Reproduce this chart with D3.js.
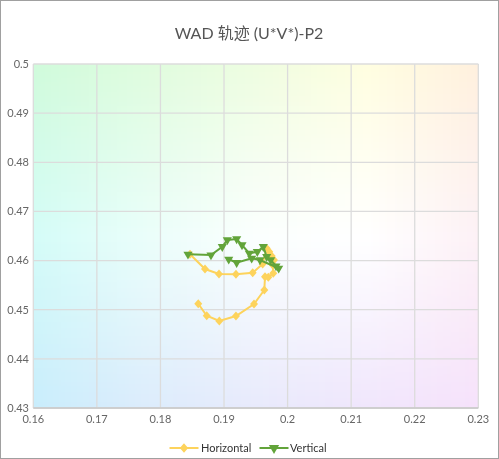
<!DOCTYPE html>
<html>
<head>
<meta charset="utf-8">
<script src="https://cdn.jsdelivr.net/npm/d3@7"></script>
<style>
  body { margin: 0; background: #fff; }
  #wrap { position: relative; width: 499px; height: 459px; }
  #bg { position: absolute; left: 0; top: 0; }
  #chart { position: absolute; left: 0; top: 0; }
  text { font-family: Lato, "Noto Sans CJK SC", sans-serif; }
</style>
</head>
<body>
<div id="wrap">
  <canvas id="bg" width="499" height="459"></canvas>
  <svg id="chart" width="499" height="459"></svg>
</div>
<script>
// data (u*, v*)
var seriesNames = ["Horizontal", "Vertical"];
var horizontalU = [0.18465, 0.18701, 0.18921, 0.19188, 0.19451, 0.19608, 0.19671, 0.19712, 0.1975, 0.19786,
  0.19766, 0.19775, 0.19697, 0.19645, 0.19634, 0.19472, 0.19188, 0.18926, 0.18728, 0.18595];
var horizontalV = [0.46128, 0.45828, 0.45727, 0.45721, 0.45753, 0.4593, 0.4625, 0.4618, 0.46093, 0.46012,
  0.4591, 0.45741, 0.4566, 0.45672, 0.45401, 0.45116, 0.44872, 0.4477, 0.44878, 0.45122];
var verticalU = [0.18433, 0.18795, 0.18973, 0.19052, 0.19199, 0.19283, 0.19398, 0.19524, 0.19618, 0.19671,
  0.19734, 0.19818, 0.1986, 0.19566, 0.19435, 0.19199, 0.19074];
var verticalV = [0.46128, 0.46113, 0.46282, 0.46419, 0.46439, 0.46317, 0.46148, 0.4618, 0.46282, 0.46079,
  0.46012, 0.45889, 0.45843, 0.46012, 0.46046, 0.45957, 0.46026];
var xTicks = [0.16, 0.17, 0.18, 0.19, 0.2, 0.21, 0.22, 0.23];
var yTicks = [0.43, 0.44, 0.45, 0.46, 0.47, 0.48, 0.49, 0.5];
var titleText = "WAD 轨迹 (U*V*)-P2";

var colors = ["#fdd35c", "#62a43a"];

var margin = { top: 64, right: 20.7, bottom: 51, left: 33.3 },
  width = 499 - margin.left - margin.right,
  height = 459 - margin.top - margin.bottom;

var x = d3.scaleLinear().domain([0.16, 0.23]).range([margin.left, margin.left + width]);
var y = d3.scaleLinear().domain([0.43, 0.5]).range([margin.top + height, margin.top]);

// background tint, blended from a grid of colours over the plot area
var bgCols = [0.16, 0.1775, 0.195, 0.2125, 0.23];
var bgRows = [
  ["#d0fbdb", "#dffcde", "#eefde0", "#fffee0", "#fff0de"],
  ["#d4fcf8", "#eafefa", "#fbfffe", "#ffffff", "#fdf1f6"],
  ["#c9edfc", "#dcecfc", "#e8eafc", "#f0e6fc", "#f6e2fb"]
];
var bgRowV = [0.5, 0.465, 0.43];
var rowScales = bgRows.map(function (r) {
  return d3.scaleLinear().domain(bgCols).range(r).interpolate(d3.interpolateRgb);
});

var ctx = document.getElementById("bg").getContext("2d");
var step = 2;
for (var px = Math.floor(margin.left); px < margin.left + width; px += step) {
  var u = x.invert(px + step / 2);
  var colScale = d3.scaleLinear().domain(bgRowV)
    .range(rowScales.map(function (s) { return s(u); }))
    .interpolate(d3.interpolateRgb);
  for (var py = margin.top; py < margin.top + height; py += step) {
    ctx.fillStyle = colScale(y.invert(py + step / 2));
    ctx.fillRect(px, py, step, step);
  }
}

// squat diamond like the echarts marker
var diamond = {
  draw: function (context, size) {
    var w = Math.sqrt(size) * 0.6, h = Math.sqrt(size) * 0.68;
    context.moveTo(0, -h);
    context.lineTo(w, 0);
    context.lineTo(0, h);
    context.lineTo(-w, 0);
    context.closePath();
  }
};

var svg = d3.select("#chart");

// outer frame
svg.append("rect")
  .attr("x", 0.5).attr("y", 0.5)
  .attr("width", 498).attr("height", 458)
  .attr("fill", "none")
  .attr("stroke", "#a0a0a0");

svg.append("text")
  .attr("x", 249)
  .attr("y", 39)
  .attr("text-anchor", "middle")
  .style("font-size", "16px")
  .style("fill", "#555")
  .text(titleText);

// grid
svg.append("g")
  .selectAll("line")
  .data(xTicks)
  .enter()
  .append("line")
  .attr("x1", function (d) { return x(d); })
  .attr("x2", function (d) { return x(d); })
  .attr("y1", margin.top)
  .attr("y2", margin.top + height)
  .style("stroke", "#dcdcdc")
  .style("stroke-width", 1.3);

svg.append("g")
  .selectAll("line")
  .data(yTicks)
  .enter()
  .append("line")
  .attr("x1", margin.left)
  .attr("x2", margin.left + width)
  .attr("y1", function (d) { return y(d); })
  .attr("y2", function (d) { return y(d); })
  .style("stroke", "#dcdcdc")
  .style("stroke-width", 1.3);

// bottom axis line
svg.append("line")
  .attr("x1", margin.left).attr("x2", margin.left + width)
  .attr("y1", y(0.43)).attr("y2", y(0.43))
  .style("stroke", "#c8c8c8")
  .style("stroke-width", 1.5);

var fmt = function (d) { return String(+d.toFixed(2)); };

svg.append("g")
  .selectAll("text")
  .data(yTicks)
  .enter()
  .append("text")
  .attr("x", 29)
  .attr("y", function (d) { return y(d); })
  .attr("dy", "0.35em")
  .attr("text-anchor", "end")
  .style("font-size", "11px")
  .style("fill", "#666")
  .text(fmt);

svg.append("g")
  .selectAll("text")
  .data(xTicks)
  .enter()
  .append("text")
  .attr("x", function (d) { return x(d); })
  .attr("y", y(0.43) + 11)
  .attr("dy", "0.35em")
  .attr("text-anchor", "middle")
  .style("font-size", "11px")
  .style("fill", "#666")
  .text(fmt);

var series = [
  { name: seriesNames[0], u: horizontalU, v: horizontalV, color: colors[0], symbol: diamond, rot: 0 },
  { name: seriesNames[1], u: verticalU, v: verticalV, color: colors[1], symbol: d3.symbolTriangle, rot: 180 }
];

var line = d3.line()
  .x(function (d) { return x(d[0]); })
  .y(function (d) { return y(d[1]); });

series.forEach(function (s) {
  var pts = d3.zip(s.u, s.v);
  var g = svg.append("g").attr("class", "series");

  g.append("path")
    .datum(pts)
    .attr("d", line)
    .attr("fill", "none")
    .style("stroke", s.color)
    .style("stroke-width", 2);

  g.selectAll("path.pt")
    .data(pts)
    .enter()
    .append("path")
    .attr("class", "pt")
    .attr("d", d3.symbol().type(s.symbol).size(s.rot ? 36 : 44))
    .attr("transform", function (d) {
      return "translate(" + x(d[0]) + "," + y(d[1]) + ") rotate(" + s.rot + ")";
    })
    .style("fill", s.color);
});

// legend
var legendPos = [{ lx: 169.5, tx: 201 }, { lx: 259.5, tx: 290 }];
var legend = svg.append("g")
  .selectAll("g")
  .data(series)
  .enter()
  .append("g")
  .attr("transform", function (d, i) { return "translate(" + legendPos[i].lx + ",448)"; });

legend.append("line")
  .attr("x1", 0).attr("x2", 29)
  .style("stroke", function (d) { return d.color; })
  .style("stroke-width", 2);

legend.append("path")
  .attr("d", function (d) { return d3.symbol().type(d.symbol).size(d.rot ? 46 : 48)(); })
  .attr("transform", function (d) { return "translate(14.5,0) rotate(" + d.rot + ")"; })
  .style("fill", function (d) { return d.color; });

legend.append("text")
  .attr("x", function (d, i) { return legendPos[i].tx - legendPos[i].lx; })
  .attr("dy", "0.35em")
  .style("font-size", "11px")
  .style("fill", "#333")
  .text(function (d) { return d.name; });
</script>
</body>
</html>
